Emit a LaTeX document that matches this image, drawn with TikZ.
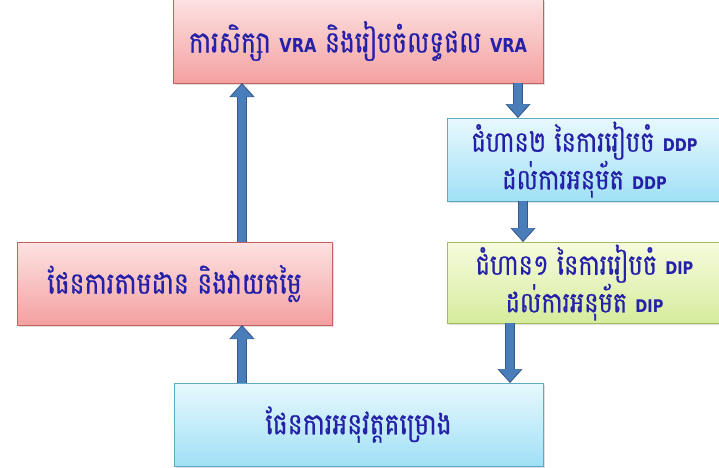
\documentclass[tikz,border=0pt]{standalone}
\usepackage{fontspec}
\newfontfamily\khmer[Script=Khmer,FakeBold=0.8]{Battambang}
\newfontfamily\latsans{DejaVu Sans}
\usetikzlibrary{positioning,arrows.meta,shadows}
\definecolor{txtblue}{RGB}{36,32,168}
\definecolor{redtop}{RGB}{253,226,226}
\definecolor{redbot}{RGB}{244,160,160}
\definecolor{rededge}{RGB}{196,96,94}
\definecolor{bluetop}{RGB}{232,248,253}
\definecolor{bluebot}{RGB}{160,224,246}
\definecolor{blueedge}{RGB}{92,170,196}
\definecolor{greentop}{RGB}{246,251,222}
\definecolor{greenbot}{RGB}{214,236,156}
\definecolor{greenedge}{RGB}{160,190,96}
\definecolor{arblue}{RGB}{74,126,187}
\definecolor{aredge}{RGB}{52,90,140}
\newcommand{\ab}[2][14.5]{{\latsans\bfseries\fontsize{#1}{16}\selectfont #2}}
\newcommand{\kh}[1]{\scalebox{1}[1.2]{#1}}

\begin{document}
\begin{tikzpicture}[x=1pt,y=-1pt,
  box/.style={draw,line width=0.8pt,inner sep=0pt,outer sep=0pt,align=center,
    text=txtblue,font=\khmer\fontsize{25}{28}\selectfont,
    drop shadow={shadow xshift=2pt,shadow yshift=-2pt,opacity=0.25}},
  redbox/.style={box,draw=rededge,top color=redtop,bottom color=redbot},
  bluebox/.style={box,draw=blueedge,top color=bluetop,bottom color=bluebot},
  greenbox/.style={box,draw=greenedge,top color=greentop,bottom color=greenbot},
  ar/.style={draw=aredge,line width=10pt,-{Triangle[width=25pt,length=14pt,line width=0.5pt]},
    postaction={draw=arblue,line width=8pt,shorten >=1.6pt,
      -{Triangle[width=21.5pt,length=12pt,line width=0.5pt]}}}]
\clip (0,0) rectangle (719,467);
\node[redbox,minimum width=370pt,minimum height=84pt] (study) at (358,41)
  {\kh{ការសិក្សា \ab[16]{VRA} និងរៀបចំលទ្ធផល \ab[16]{VRA}}};
\node[bluebox,minimum width=275pt,minimum height=83pt,
  font=\khmer\fontsize{24}{21}\selectfont] (ddp) at (584.5,159.5)
  {\kh{ជំហាន២ នៃការរៀបចំ \ab{DDP}}\\\kh{ដល់ការអនុម័ត \ab{DDP}}};
\node[greenbox,minimum width=275pt,minimum height=81pt,
  font=\khmer\fontsize{24}{21}\selectfont] (dip) at (584.5,282.5)
  {\kh{ជំហាន១ នៃការរៀបចំ \ab{DIP}}\\\kh{ដល់ការអនុម័ត \ab{DIP}}};
\node[redbox,minimum width=315pt,minimum height=83pt] (monitor) at (174.5,283.5)
  {\kh{ផែនការតាមដាន និងវាយតម្លៃ}};
\node[bluebox,minimum width=369pt,minimum height=83pt] (impl) at (358.5,424.5)
  {\kh{ផែនការអនុវត្តគម្រោង}};
% arrow columns
\coordinate (lcol) at (242,0);
\coordinate (rcol1) at (518,0);
\coordinate (rcol2) at (523,0);
\coordinate (rcol3) at (510,0);
\draw[ar] (impl.north -| lcol) -- (monitor.south -| lcol);
\draw[ar] (monitor.north -| lcol) -- (study.south -| lcol);
\draw[ar] (study.south -| rcol1) -- (ddp.north -| rcol1);
\draw[ar] (ddp.south -| rcol2) -- (dip.north -| rcol2);
\draw[ar] (dip.south -| rcol3) -- (impl.north -| rcol3);
\end{tikzpicture}
\end{document}
